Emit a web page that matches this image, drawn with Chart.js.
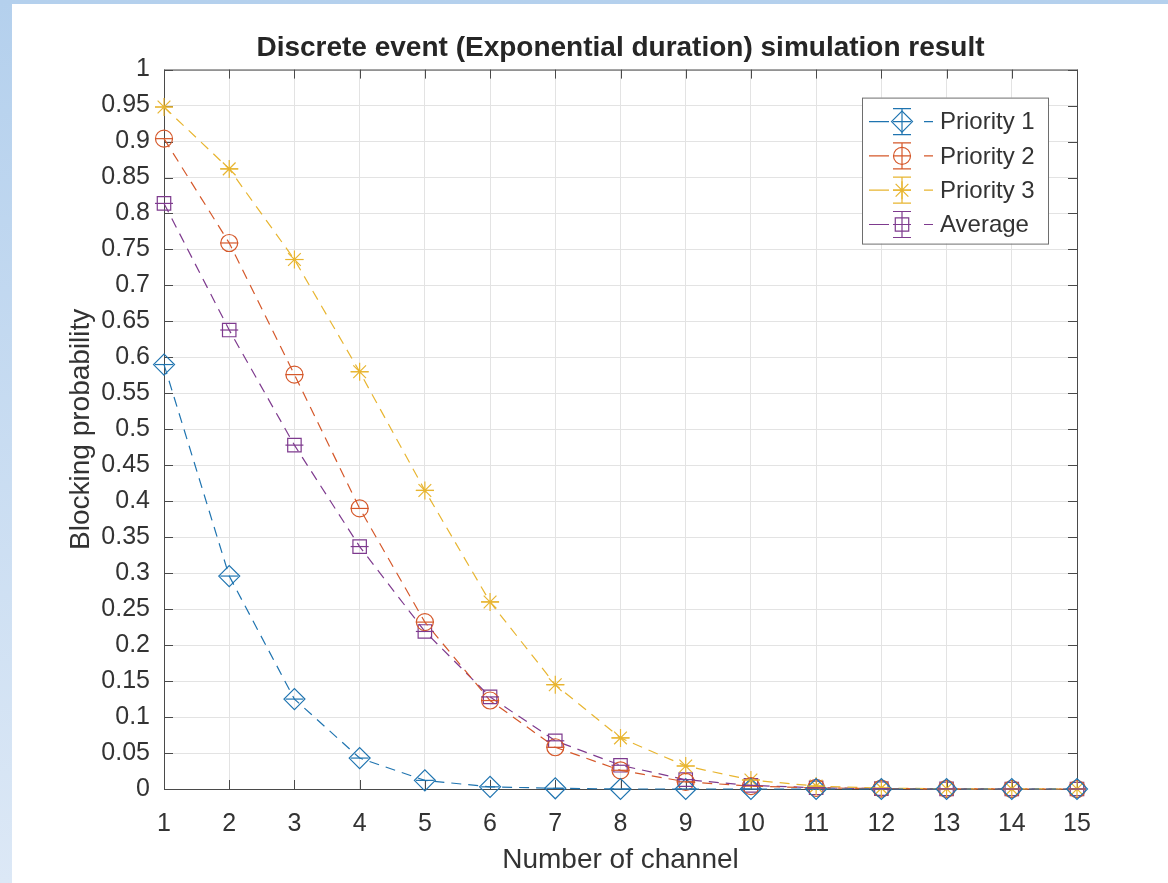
<!DOCTYPE html>
<html>
<head>
<meta charset="utf-8">
<script src="https://cdn.jsdelivr.net/npm/chart.js@4.4.1/dist/chart.umd.min.js"></script>
<style>
  html, body { margin: 0; padding: 0; }
  body {
    width: 1168px; height: 883px; overflow: hidden; position: relative;
    background: linear-gradient(to bottom, #b4d0ed, #dce8f6);
  }
  #wrap { position: absolute; left: 12px; top: 4px; width: 1156px; height: 879px; background: #fff; }
</style>
</head>
<body>
<div id="wrap"><canvas id="chart" width="1156" height="879"></canvas></div>
<script>
// data
const channels = [1, 2, 3, 4, 5, 6, 7, 8, 9, 10, 11, 12, 13, 14, 15];
const priority1 = [0.59, 0.296, 0.125, 0.043, 0.012, 0.003, 0.001, 0, 0, 0, 0, 0, 0, 0, 0];
const priority2 = [0.904, 0.759, 0.576, 0.39, 0.232, 0.123, 0.058, 0.026, 0.01, 0.004, 0.0015, 0.0005, 0.0002, 0, 0];
const priority3 = [0.948, 0.862, 0.736, 0.58, 0.415, 0.26, 0.145, 0.071, 0.032, 0.0125, 0.004, 0.0012, 0.0003, 0.0001, 0];
const average = [0.814, 0.638, 0.478, 0.337, 0.219, 0.128, 0.067, 0.033, 0.013, 0.005, 0.0017, 0.0005, 0.0002, 0, 0];

const seriesNames = ['Priority 1', 'Priority 2', 'Priority 3', 'Average'];
const seriesValues = [priority1, priority2, priority3, average];
const seriesColors = ['#1f74b0', '#d5582a', '#e8b530', '#7e3a8e'];
const seriesMarkers = ['rectRot', 'circle', 'star', 'rect'];
const markerSizes = [10.5, 8.5, 9, 9.5];

const yTicks = [0, 0.05, 0.1, 0.15, 0.2, 0.25, 0.3, 0.35, 0.4, 0.45, 0.5, 0.55, 0.6, 0.65, 0.7, 0.75, 0.8, 0.85, 0.9, 0.95, 1];
const yTickLabels = ['0', '0.05', '0.1', '0.15', '0.2', '0.25', '0.3', '0.35', '0.4', '0.45', '0.5', '0.55', '0.6', '0.65', '0.7', '0.75', '0.8', '0.85', '0.9', '0.95', '1'];
const xTickLabels = ['1', '2', '3', '4', '5', '6', '7', '8', '9', '10', '11', '12', '13', '14', '15'];

const FONT = '"Liberation Sans", Arial, Helvetica, sans-serif';
const TEXT = '#333333';
const AXIS = '#4a4a4a';

// zero-length error bars: just the caps across each marker
const errorCaps = {
  id: 'errorCaps',
  afterDatasetsDraw(chart) {
    const ctx = chart.ctx;
    chart.data.datasets.forEach((ds, i) => {
      const meta = chart.getDatasetMeta(i);
      ctx.save();
      ctx.strokeStyle = ds.borderColor;
      ctx.lineWidth = 1.2;
      meta.data.forEach(pt => {
        ctx.beginPath();
        ctx.moveTo(pt.x - 9, pt.y);
        ctx.lineTo(pt.x + 9, pt.y);
        ctx.stroke();
      });
      ctx.restore();
    });
  }
};

// matlab style box with inward ticks
const axesBox = {
  id: 'axesBox',
  beforeDatasetsDraw(chart) {
    const { ctx, chartArea: a, scales } = chart;
    const tl = 9;
    ctx.save();
    ctx.strokeStyle = AXIS;
    ctx.lineWidth = 1;
    ctx.strokeRect(a.left + 0.5, a.top + 0.5, a.right - a.left, a.bottom - a.top);
    ctx.beginPath();
    scales.x.ticks.forEach(t => {
      const x = Math.round(scales.x.getPixelForValue(t.value)) + 0.5;
      ctx.moveTo(x, a.bottom); ctx.lineTo(x, a.bottom - tl);
      ctx.moveTo(x, a.top); ctx.lineTo(x, a.top + tl);
    });
    scales.y.ticks.forEach(t => {
      const y = Math.round(scales.y.getPixelForValue(t.value)) + 0.5;
      ctx.moveTo(a.left, y); ctx.lineTo(a.left + tl, y);
      ctx.moveTo(a.right, y); ctx.lineTo(a.right - tl, y);
    });
    ctx.stroke();
    ctx.restore();
  }
};

const boxLegend = {
  id: 'boxLegend',
  afterDraw(chart) {
    const { ctx, chartArea: a } = chart;
    const w = 186, h = 146;
    const x0 = a.right - 29 - w, y0 = a.top + 28;
    ctx.save();
    ctx.fillStyle = '#fff';
    ctx.fillRect(x0, y0, w, h);
    ctx.strokeStyle = '#6e6e6e';
    ctx.lineWidth = 1;
    ctx.strokeRect(x0 + 0.5, y0 + 0.5, w, h);
    chart.data.datasets.forEach((ds, i) => {
      const y = y0 + 24 + i * 34.3;
      const mx = x0 + 40;
      ctx.strokeStyle = ds.borderColor;
      ctx.lineWidth = 1.2;
      ctx.beginPath();
      ctx.moveTo(x0 + 7, y); ctx.lineTo(x0 + 27, y);
      ctx.moveTo(x0 + 62, y); ctx.lineTo(x0 + 71, y);
      ctx.moveTo(mx, y - 13); ctx.lineTo(mx, y + 13);
      ctx.moveTo(mx - 9, y - 13); ctx.lineTo(mx + 9, y - 13);
      ctx.moveTo(mx - 9, y + 13); ctx.lineTo(mx + 9, y + 13);
      ctx.moveTo(mx - 9, y); ctx.lineTo(mx + 9, y);
      ctx.stroke();
      ctx.fillStyle = 'rgba(0,0,0,0)';
      Chart.helpers.drawPoint(ctx, {
        pointStyle: ds.pointStyle, radius: ds.pointRadius, borderWidth: 1.2, rotation: 0
      }, mx, y);
      ctx.fillStyle = TEXT;
      ctx.font = '24px ' + FONT;
      ctx.textBaseline = 'middle';
      ctx.textAlign = 'left';
      ctx.fillText(ds.label, x0 + 78, y + 1);
    });
    ctx.restore();
  }
};

const datasets = seriesNames.map((name, i) => ({
  label: name,
  data: channels.map((c, j) => ({ x: c, y: seriesValues[i][j] })),
  borderColor: seriesColors[i],
  backgroundColor: 'rgba(0,0,0,0)',
  borderWidth: 1.2,
  borderDash: [10, 7],
  pointStyle: seriesMarkers[i],
  pointRadius: markerSizes[i],
  pointBorderColor: seriesColors[i],
  pointBackgroundColor: 'rgba(0,0,0,0)',
  pointBorderWidth: 1.2,
  tension: 0,
  clip: false
}));

new Chart(document.getElementById('chart'), {
  type: 'line',
  data: { datasets },
  options: {
    responsive: false,
    animation: false,
    layout: { padding: { left: 0, right: 91, top: 0, bottom: 0 } },
    plugins: {
      legend: { display: false },
      tooltip: { enabled: false },
      title: {
        display: true,
        text: 'Discrete event (Exponential duration) simulation result',
        fullSize: false,
        color: '#262626',
        font: { family: FONT, size: 28, weight: 'bold' },
        padding: { top: 27, bottom: 5 }
      }
    },
    scales: {
      x: {
        type: 'linear',
        min: 1, max: 15,
        afterBuildTicks: s => { s.ticks = channels.map(v => ({ value: v })); },
        afterFit: s => { s.height = 94; },
        grid: { color: '#e3e3e3', drawTicks: false },
        border: { display: false },
        ticks: {
          padding: 20,
          color: TEXT,
          font: { family: FONT, size: 25 },
          maxRotation: 0,
          callback: (v, i) => xTickLabels[i]
        },
        title: {
          display: true,
          text: 'Number of channel',
          color: TEXT,
          font: { family: FONT, size: 28 },
          padding: { top: 0, bottom: 6 }
        }
      },
      y: {
        min: 0, max: 1,
        afterBuildTicks: s => { s.ticks = yTicks.map(v => ({ value: v })); },
        afterFit: s => { s.width = 152; },
        grid: { color: '#e3e3e3', drawTicks: false },
        border: { display: false },
        ticks: {
          padding: 14,
          color: TEXT,
          font: { family: FONT, size: 25 },
          callback: (v, i) => yTickLabels[i]
        },
        title: {
          display: true,
          text: 'Blocking probability',
          color: TEXT,
          font: { family: FONT, size: 28 },
          padding: { top: 52, bottom: 0 }
        }
      }
    }
  },
  plugins: [axesBox, errorCaps, boxLegend]
});
</script>
</body>
</html>
